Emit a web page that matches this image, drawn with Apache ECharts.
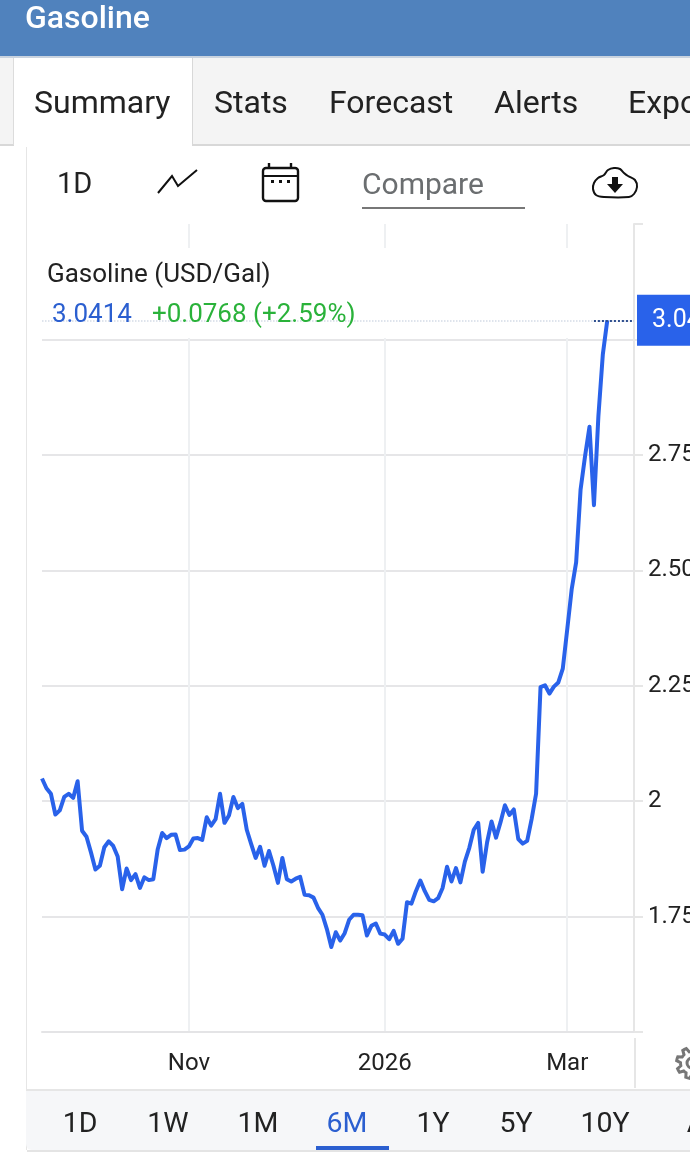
<!DOCTYPE html>
<html><head><meta charset="utf-8">
<style>html,body{margin:0;padding:0;background:#fff;overflow:hidden}#c{width:690px;height:1170px}</style>
<script src="https://cdn.jsdelivr.net/npm/echarts@6/dist/echarts.min.js"></script>
</head><body><div id="c"></div>
<script>
const priceValues = [
2.049,2.028,2.016,1.971,1.980,2.009,2.016,2.007,2.043,1.936,1.923,1.889,1.852,1.860,1.900,1.913,1.903,1.880,1.809,1.854,
1.829,1.842,1.812,1.835,1.829,1.831,1.896,1.931,1.920,1.927,1.928,1.894,1.895,1.902,1.919,1.920,1.916,1.965,1.947,1.961,
2.016,1.953,1.969,2.009,1.985,1.994,1.938,1.907,1.877,1.901,1.860,1.892,1.860,1.823,1.877,
1.831,1.826,1.832,1.836,1.797,1.796,1.791,1.769,1.754,1.723,1.684,1.716,1.698,1.714,1.743,1.754,1.754,1.753,1.709,1.730,
1.735,1.713,1.711,1.701,1.719,1.691,1.702,1.781,1.778,1.805,1.828,1.805,1.786,1.783,1.790,1.812,1.858,1.826,1.855,1.824,
1.869,1.899,1.938,1.953,1.847,1.911,1.956,1.921,1.954,1.991,1.970,1.982,1.918,1.908,1.914,1.961,2.016,
2.247,2.251,2.233,2.248,2.257,2.287,2.372,2.459,2.517,2.675,2.747,2.811,2.641,2.834,2.968,3.0414];
const startDate = '2025-09-17', slotCount = 134;
const xTickLabels = {'2025-11-03':'Nov','2026-01-02':'2026','2026-03-02':'Mar'};
const yTickLabels = {'1.75':'1.75','2':'2','2.25':'2.25','2.5':'2.50','2.75':'2.75','3':'3'};
const headerTitle = 'Gasoline';
const tabs = ['Summary','Stats','Forecast','Alerts','Export'];
const ranges = ['1D','1W','1M','6M','1Y','5Y','10Y','All'];
const chartTitle = 'Gasoline (USD/Gal)';
const lastText = '3.0414', changeText = '+0.0768 (+2.59%)';

const categories = [];
for (let d = new Date(startDate + 'T00:00:00Z'); categories.length < slotCount; d.setUTCDate(d.getUTCDate()+1)) {
  const s = d.toISOString().slice(0,10), w = d.getUTCDay();
  if (w !== 0 && w !== 6) categories.push(s);
}
const FONT = 'Roboto';
const BLUE = '#2962ea';
const last = priceValues[priceValues.length-1];
const txt = (x,y,text,size,fill,extra={},z=5) => ({type:'text',x,y:y+2,z,silent:true,
  style:Object.assign({text,fontFamily:FONT,fontSize:size,fill,verticalAlign:'middle',align:'left'},extra)});
const rect = (x,y,w,h,fill,z=0) => ({type:'rect',z,silent:true,shape:{x,y,width:w,height:h},style:{fill}});
const line = (x1,y1,x2,y2,stroke,lw,z=4) => ({type:'line',z,silent:true,shape:{x1,y1,x2,y2},style:{stroke,lineWidth:lw}});
const tabX = [34,214,329,494,628], rangeX = [80,168,258,347,433,516,605,703];
const gearPts = [];
for (let k=0;k<48;k++){ const a=k/48*2*Math.PI, r=(k%6<3)?15.5:11.5; gearPts.push([692+r*Math.cos(a+0.15),1063+r*Math.sin(a+0.15)]); }
const cloudPts = [[604,197],[629,197],[634,194],[637,187],[635,180],[628,176],[624,173],[620,169],[614,168],[608,170],[604,175],[598,178],[594,183],[593,189],[596,195]];
const gfx = [
  rect(0,0,690,56,'#5082bd',3), rect(0,56,690,2,'#c9d3df',3),
  txt(25,18,headerTitle,32,'#fff',{fontWeight:500}),
  rect(0,58,690,87,'#f4f4f4',3), rect(0,144,690,2,'#d8d8d8',3),
  rect(14,58,178,89,'#ffffff',3), rect(13,58,1,87,'#dcdcdc',3), rect(192,58,1,87,'#d8d8d8',3),
  ...tabs.map((t,i)=>txt(tabX[i],103,t,32,'#222')),
  rect(26,147,1,1003,'#e6e6e6',3),
  txt(57,184,'1D',29,'#222'),
  {type:'polyline',z:5,silent:true,shape:{points:[[158,193],[172,176],[178,186],[197,170]]},style:{stroke:'#111',lineWidth:2,fill:null}},
  {type:'rect',z:5,silent:true,shape:{x:263,y:168,width:35,height:33,r:3},style:{stroke:'#111',lineWidth:2.4,fill:'#fff'}},
  line(263,176,298,176,'#111',2,5), line(269,163,269,168,'#111',2.4,5), line(291,163,291,168,'#111',2.4,5),
  rect(271,180,3,3,'#111',5), rect(279,180,3,3,'#111',5), rect(287,180,3,3,'#111',5),
  txt(362,184,'Compare',30,'#6b6e70'), rect(362,207,163,2,'#777',5),
  {type:'polygon',z:5,silent:true,shape:{points:cloudPts,smooth:0.35},style:{stroke:'#111',lineWidth:2,fill:'#fff'}},
  {type:'polygon',z:6,silent:true,shape:{points:[[612,177],[618,177],[618,184],[623,184],[615,193],[607,184],[612,184]]},style:{fill:'#111'}},
  rect(42,248,590,90,'#ffffff',1),
  rect(634,1038,2,50,'#e6e6e6',3),
  {type:'polygon',z:5,silent:true,shape:{points:gearPts},style:{stroke:'#777',lineWidth:3,fill:'#fff'}},
  {type:'circle',z:6,silent:true,shape:{cx:692,cy:1063,r:5},style:{stroke:'#777',lineWidth:3,fill:'#fff'}},
  rect(27,1089,663,2,'#e6e6e6',3),
  {type:'rect',z:3,silent:true,shape:{x:26,y:1091,width:680,height:59,r:[0,0,0,6]},style:{fill:'#f6f7f9'}},
  rect(27,1150,663,2,'#e4e4e4',3),
  ...ranges.map((t,i)=>txt(rangeX[i],1123,t,28.5,i===3?'#2b5fd0':'#222',{align:'center'})),
  rect(316,1146,73,4,'#2b5fd0',5),
];
const chart = echarts.init(document.getElementById('c'),null,{renderer:'canvas',width:690,height:1170});
chart.setOption({
  animation:false,
  backgroundColor:'#fff',
  title:[{text:chartTitle,left:47,top:260,padding:0,textStyle:{fontFamily:FONT,fontSize:26,fontWeight:400,color:'#222',lineHeight:30},z:6},
         {text:`{a|${lastText}}    {b|${changeText}}`,left:52,top:302,padding:0,z:6,
          textStyle:{rich:{a:{fontFamily:FONT,fontSize:26,fontWeight:400,color:'#2b5fd0'},b:{fontFamily:FONT,fontSize:26,fontWeight:400,color:'#2ab23a'}}}}],
  grid:{left:42,right:56,top:224,bottom:138,containLabel:false,outerBoundsMode:'none'},
  xAxis:{type:'category',data:categories,boundaryGap:false,
    axisLine:{show:true,lineStyle:{color:'#e4e4e6',width:2}},
    axisTick:{show:false},
    axisLabel:{interval:(i,v)=>v in xTickLabels,formatter:v=>xTickLabels[v]||'',margin:20,hideOverlap:false,
      fontFamily:FONT,fontSize:24,color:'#222'},
    splitLine:{show:true,interval:(i,v)=>v in xTickLabels,lineStyle:{color:'#eef0f2',width:2}}},
  yAxis:{type:'value',position:'right',min:1.5,max:3.25,interval:0.25,
    axisLine:{show:true,lineStyle:{color:'#e6e6e6',width:2}},
    axisTick:{show:true,length:9,lineStyle:{color:'#e6e6e6',width:2}},
    axisLabel:{margin:14,fontFamily:FONT,fontSize:24,color:'#222',padding:[5,0,0,0],formatter:v=>yTickLabels[String(v)]||''},
    splitLine:{show:true,showMinLine:false,showMaxLine:false,lineStyle:{color:'#e6e6e8',width:2}}},
  graphic:gfx,
  series:[{type:'line',data:priceValues,showSymbol:false,symbol:'none',z:4,
    lineStyle:{color:BLUE,width:4,join:'round'},
    markLine:{silent:true,symbol:'none',animation:false,precision:4,data:[
      [{coord:[0,last],lineStyle:{color:'#d4dbe6',type:'dotted',width:1.5},label:{show:false}},{coord:[slotCount-1,last]}],
      [{coord:[124,last],lineStyle:{color:'#2f4f8f',type:'dotted',width:2},
        label:{show:true,position:'end',distance:3,formatter:lastText,fontFamily:FONT,fontSize:25,color:'#fff',
          backgroundColor:BLUE,padding:[13,40,13,15],align:'left'}},{coord:[slotCount-1,last]}]
    ]}}]
});
</script></body></html>
